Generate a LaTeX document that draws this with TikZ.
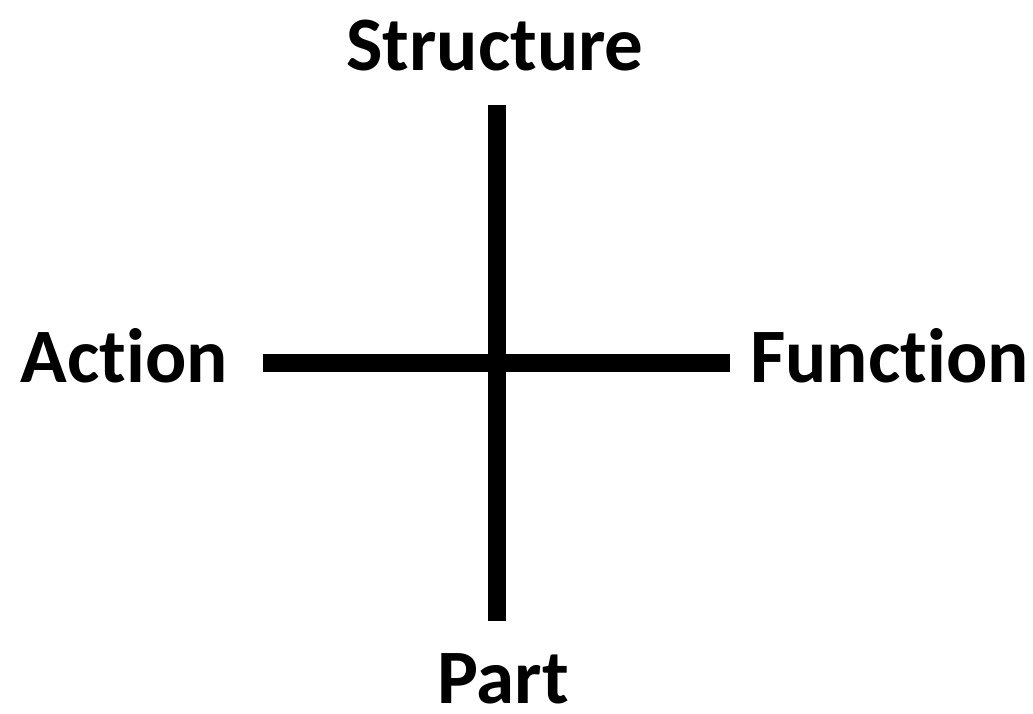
\documentclass[tikz,border=0pt]{standalone}
\usepackage{fontspec}
\setmainfont{Carlito}[RawFeature=-liga]
\usetikzlibrary{positioning}
\tikzset{
  axislabel/.style={inner sep=0pt, font=\fontsize{77}{92}\selectfont\bfseries},
  axisline/.style={line width=18pt, draw=black, line cap=butt},
}
\begin{document}
\begin{tikzpicture}[x=1pt, y=-1pt]
        \useasboundingbox (0,0) rectangle (1033,713);

        % Axis ends
        \coordinate (top) at (497,105);
        \coordinate (bottom) at (497,621);
        \coordinate (left) at (263,363);
        \coordinate (right) at (730,363);

        % Labels
        \node[axislabel, anchor=base] (structure) at (495,70) {Structure};
        \node[axislabel, anchor=base] (part) at (503,703) {Part};
        \node[axislabel, anchor=base east] (action) at (228,382) {Action};
        \node[axislabel, anchor=base west] (function) at (750,382) {Function};

        % Cross
        \draw[axisline] (top) -- (bottom);
        \draw[axisline] (left) -- (right);
      \end{tikzpicture}
\end{document}
